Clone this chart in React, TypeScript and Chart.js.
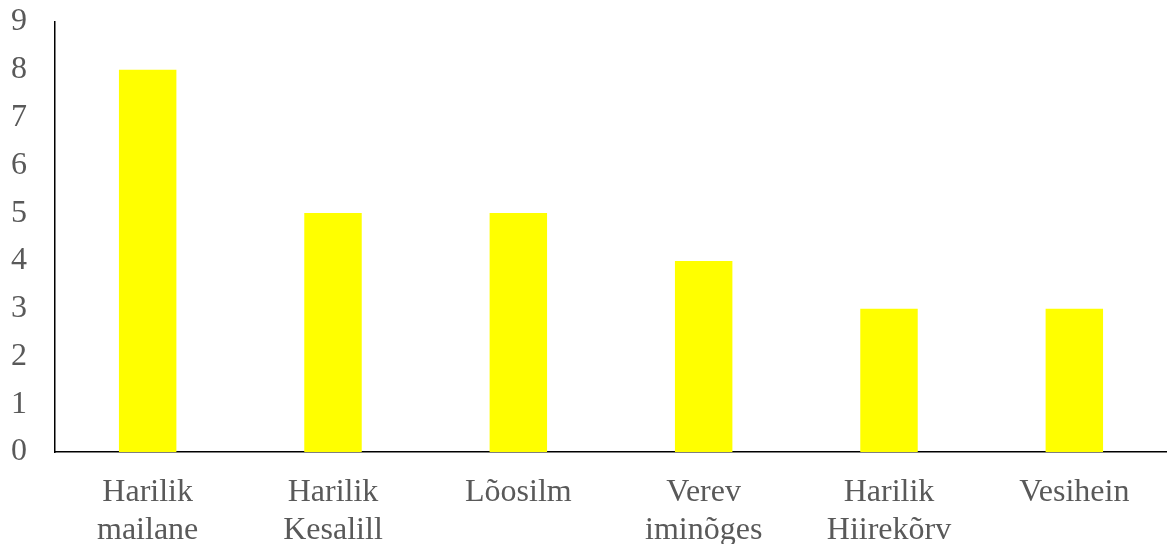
import React, { useEffect, useRef } from "react";
import { Chart, registerables } from "chart.js";

Chart.register(...registerables);

// Species and their counts
const categories: string[][] = [
  ["Harilik", "mailane"],
  ["Harilik", "Kesalill"],
  ["Lõosilm"],
  ["Verev", "iminõges"],
  ["Harilik", "Hiirekõrv"],
  ["Vesihein"],
];
const counts: number[] = [8, 5, 5, 4, 3, 3];
const yMin = 0;
const yMax = 9;
const yStep = 1;

const FONT = "'Liberation Serif', 'Times New Roman', serif";
const TEXT = "#595959";

export default function App() {
  const ref = useRef<HTMLCanvasElement | null>(null);

  useEffect(() => {
    document.body.style.margin = "0";
    const canvas = ref.current;
    if (!canvas) return;
    const chart = new Chart(canvas, {
      type: "bar",
      data: {
        labels: categories,
        datasets: [
          {
            data: counts,
            backgroundColor: "#FFFF00",
            borderWidth: 0,
            barPercentage: 0.31,
            categoryPercentage: 1,
          },
        ],
      },
      options: {
        animation: false,
        responsive: false,
        maintainAspectRatio: false,
        layout: { padding: { top: 22, right: 0, bottom: 0, left: 0 } },
        plugins: {
          legend: { display: false },
          tooltip: { enabled: false },
        },
        scales: {
          x: {
            grid: { display: false, drawTicks: false },
            border: { display: true, color: "#000000", width: 1.5 },
            ticks: {
              color: TEXT,
              font: { family: FONT, size: 32, lineHeight: 1.18 },
              padding: 22,
              maxRotation: 0,
              autoSkip: false,
            },
            afterFit: (scale: any) => {
              scale.height = 92;
            },
          },
          y: {
            min: yMin,
            max: yMax,
            grid: { display: false, drawTicks: false },
            border: { display: true, color: "#000000", width: 1.5 },
            ticks: {
              stepSize: yStep,
              color: TEXT,
              font: { family: FONT, size: 32, lineHeight: 0.3 },
              padding: 28,
            },
            afterFit: (scale: any) => {
              scale.width = 55;
              scale.paddingTop = 0;
              scale.paddingBottom = 0;
            },
          },
        },
      },
    });
    return () => chart.destroy();
  }, []);

  return (
    <div style={{ width: 1167, height: 544 }}>
      <canvas ref={ref} width={1167} height={544} style={{ display: "block" }} />
    </div>
  );
}
